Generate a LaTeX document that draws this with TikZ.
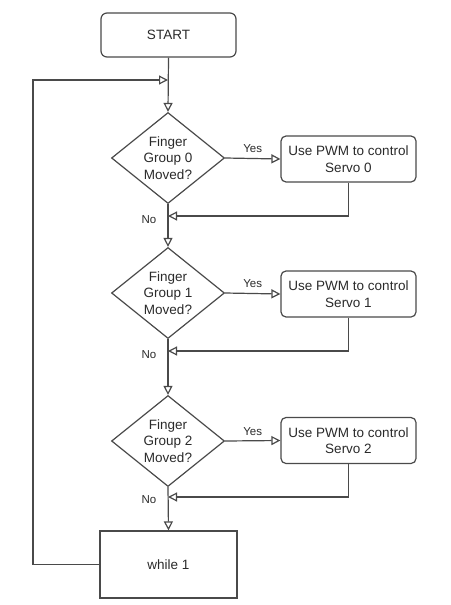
\documentclass[tikz,border=0pt]{standalone}
\usepackage{fontspec}
\setmainfont{Liberation Sans}
\usetikzlibrary{shapes.geometric,arrows.meta}
\definecolor{linec}{HTML}{4A4A4A}
\definecolor{textc}{HTML}{2A2A2A}
\begin{document}
\begin{tikzpicture}[x=1pt,y=-1pt,
  every node/.style={text=textc,font=\fontsize{13.5}{16.5}\selectfont},
  conn/.style={draw=linec,line width=1.2pt},
  arr/.style={conn,-{Triangle[open,length=9pt,width=9pt,fill=white]}},
  startbox/.style={draw=linec,line width=1.2pt,rounded corners=6pt,minimum width=135pt,minimum height=44pt,inner sep=0pt},
  procbox/.style={draw=linec,line width=1.2pt,rounded corners=5pt,minimum width=135pt,minimum height=46pt,inner sep=0pt,align=center},
  decision/.style={draw=linec,line width=1.2pt,shape=diamond,aspect=1.24,inner sep=0pt,minimum width=113pt,minimum height=91pt,align=center},
  plainbox/.style={draw=linec,line width=1.2pt,minimum width=137pt,minimum height=67pt,inner sep=0pt},
  lbl/.style={font=\fontsize{11.5}{13}\selectfont,inner sep=0pt}]
\useasboundingbox (0,0) rectangle (450,605);

\node[startbox] (start) at (168.5,35) {START};
\node[decision] (d0) at (168,158) {Finger\\Group 0\\Moved?};
\node[procbox] (b0) at (348.5,159) {Use PWM to control\\Servo 0};
\node[decision] (d1) at (168,293) {Finger\\Group 1\\Moved?};
\node[procbox] (b1) at (348.5,294) {Use PWM to control\\Servo 1};
\node[decision] (d2) at (168,441) {Finger\\Group 2\\Moved?};
\node[procbox] (b2) at (348.5,440.5) {Use PWM to control\\Servo 2};
\node[plainbox] (w) at (168.5,564.5) {while 1};

\coordinate (m0) at (168,80);
\coordinate (m1) at (168,216);
\coordinate (m2) at (168,351);
\coordinate (m3) at (168,497);

% main flow
\draw[arr] (start.south) -- (d0.north);
\draw[arr] (d0.south) -- (d1.north);
\draw[arr] (d1.south) -- (d2.north);
\draw[arr] (d2.south) -- (w.north);

% yes branches
\draw[arr] (d0.east) -- node[lbl,above=5pt,pos=0.5] (y0) {Yes} (b0.west);
\draw[arr] (d1.east) -- node[lbl,above=5pt,pos=0.5] (y1) {Yes} (b1.west);
\draw[arr] (d2.east) -- node[lbl,above=5pt,pos=0.5] (y2) {Yes} (b2.west);

% returns
\draw[arr] (b0.south) |- (m1);
\draw[arr] (b1.south) |- (m2);
\draw[arr] (b2.south) |- (m3);

% no labels
\node[lbl] (n0) at (149,220) {No};
\node[lbl] (n1) at (149,355) {No};
\node[lbl] (n2) at (149,500) {No};

% loop back
\draw[arr] (w.west) -- (33,564.5) |- (m0);
\end{tikzpicture}
\end{document}
